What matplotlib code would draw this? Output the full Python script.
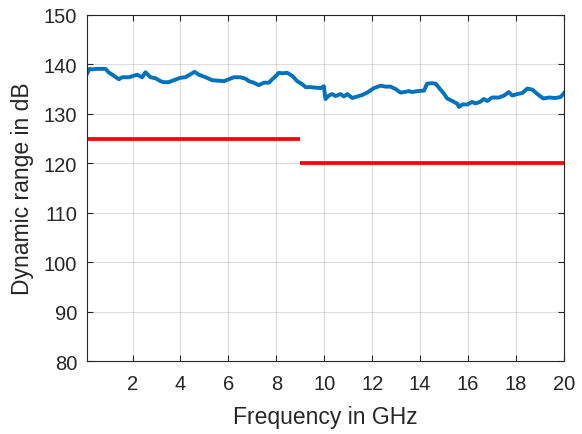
import matplotlib.pyplot as plt

freq = [0.1, 0.2, 0.31, 0.52, 0.87, 1.0, 1.22, 1.43, 1.57, 1.85, 2.05, 2.19, 2.4, 2.54,
        2.75, 2.96, 3.17, 3.3, 3.51, 3.72, 4.0, 4.2, 4.42, 4.59, 4.77, 5.05, 5.32,
        5.6, 5.81, 6.02, 6.23, 6.5, 6.72, 6.86, 7.06, 7.27, 7.48, 7.69, 7.83, 7.97,
        8.1, 8.24, 8.45, 8.66, 8.87, 9.08, 9.22, 9.43, 9.64, 9.85, 9.98, 10.05,
        10.19, 10.33, 10.47, 10.68, 10.82, 10.96, 11.17, 11.37, 11.58, 11.79, 12.07,
        12.35, 12.56, 12.77, 12.98, 13.18, 13.32, 13.53, 13.67, 13.88, 14.16, 14.29,
        14.5, 14.65, 14.78, 14.99, 15.13, 15.34, 15.55, 15.62, 15.76, 15.96, 16.17,
        16.31, 16.49, 16.66, 16.8, 17.0, 17.29, 17.5, 17.7, 17.84, 18.05, 18.26,
        18.47, 18.68, 18.89, 19.14, 19.37, 19.65, 19.86, 20.0]
dyn_range = [138.1, 139.1, 139.0, 139.1, 139.1, 138.4, 137.7, 137.0, 137.4, 137.4, 137.7,
             137.9, 137.4, 138.4, 137.4, 137.2, 136.6, 136.4, 136.4, 136.8, 137.3, 137.4,
             138.0, 138.5, 137.9, 137.4, 136.8, 136.7, 136.6, 137.0, 137.4, 137.4, 137.1,
             136.6, 136.3, 135.8, 136.3, 136.3, 137.0, 137.6, 138.3, 138.2, 138.3, 137.7,
             136.6, 136.0, 135.4, 135.4, 135.3, 135.2, 135.6, 133.0, 133.7, 134.0, 133.6,
             134.0, 133.5, 134.0, 133.2, 133.5, 133.8, 134.3, 135.2, 135.7, 135.5, 135.5,
             135.0, 134.3, 134.4, 134.6, 134.4, 134.6, 134.7, 136.1, 136.2, 136.1, 135.3,
             134.1, 133.1, 132.6, 132.05, 131.4, 131.9, 131.9, 132.4, 132.1, 132.4, 133.0,
             132.6, 133.3, 133.3, 133.7, 134.4, 133.7, 134.0, 134.2, 135.1, 134.9, 134.0,
             133.1, 133.3, 133.2, 133.4, 134.2]

# required limits
limit_freq = [[0.1, 9.0], [9.0, 20.0]]
limit_db = [125, 120]

ink = '#262626'
plt.rcParams['font.family'] = ['Liberation Sans', 'DejaVu Sans']

fig = plt.figure(figsize=(5.82, 4.35), dpi=100)
ax = fig.add_axes([0.1495, 0.1678, 0.8195, 0.7955])

ax.plot(freq, dyn_range, color='#0072BD', linewidth=2.8, solid_joinstyle='round')
for f, d in zip(limit_freq, limit_db):
    ax.plot(f, [d, d], color='#FF0000', linewidth=2.7, solid_capstyle='butt')

ax.set_xlim(0.1, 20)
ax.set_ylim(80, 150)
ax.set_xticks(range(2, 21, 2))
ax.set_yticks(range(80, 151, 10))
ax.grid(True, color=ink, alpha=0.15, linewidth=0.8)
ax.tick_params(direction='in', length=4, width=0.8, colors=ink, labelsize=14.5,
               top=True, right=True, labeltop=False, labelright=False)
ax.tick_params(axis='y', pad=7)
ax.tick_params(axis='x', pad=9)
for s in ax.spines.values():
    s.set_color(ink)
    s.set_linewidth(0.8)

ax.set_xlabel('Frequency in GHz', fontsize=16.5, color=ink, labelpad=9)
ax.set_ylabel('Dynamic range in dB', fontsize=16.5, color=ink, labelpad=7)

fig.savefig('out.png', dpi=100)
